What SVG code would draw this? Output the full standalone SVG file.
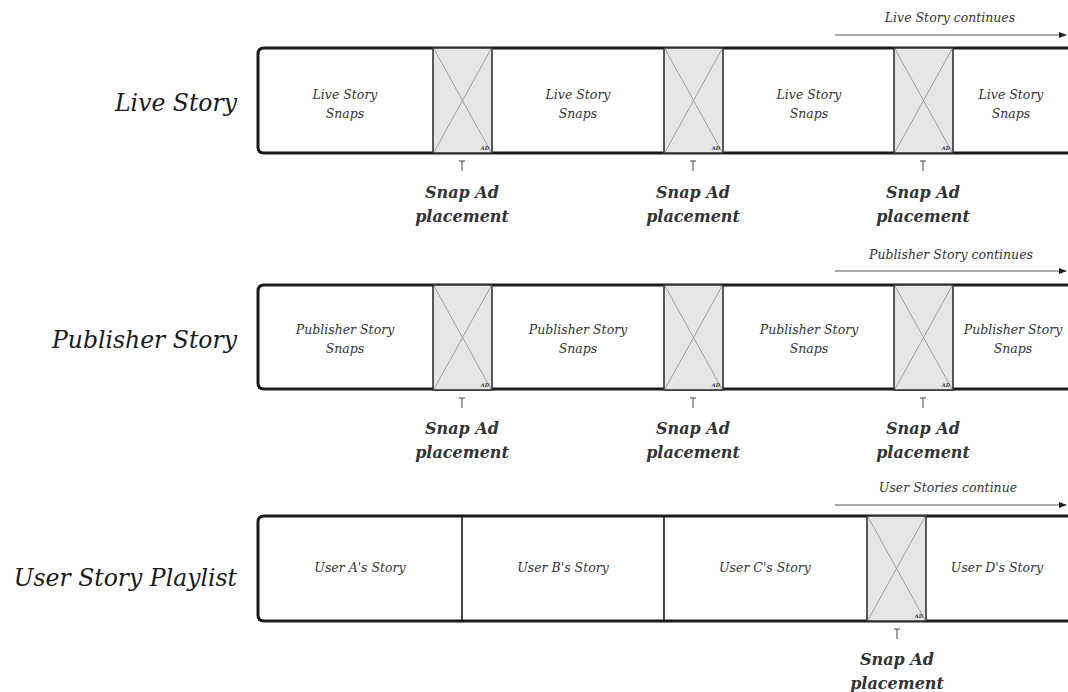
<svg xmlns="http://www.w3.org/2000/svg" width="1068" height="692" viewBox="0 0 1068 692">
<defs>
<style>
.bg{fill:#fff}
.frame{fill:#fff;stroke:#1a1a1a;stroke-width:3}
.div{stroke:#1a1a1a;stroke-width:1.6;fill:none}
.ad{fill:#e6e6e6;stroke:#333;stroke-width:1.6}
.x{stroke:#8a8a8a;stroke-width:0.8;fill:none}
.adt{font-family:"DejaVu Serif",serif;font-style:italic;font-weight:bold;font-size:5px;fill:#333;text-anchor:end}
.row{font-family:"DejaVu Serif",serif;font-style:italic;font-size:23.5px;fill:#1a1a1a;text-anchor:end}
.cell{font-family:"DejaVu Serif",serif;font-style:italic;font-size:12.5px;fill:#333;text-anchor:middle}
.snap{font-family:"DejaVu Serif",serif;font-style:italic;font-weight:bold;font-size:16px;fill:#333;text-anchor:middle}
.cont{font-family:"DejaVu Serif",serif;font-style:italic;font-size:12.5px;fill:#333;text-anchor:middle}
.arr{stroke:#555;stroke-width:1.2;fill:none;marker-end:url(#ah)}
.tick{stroke:#444;stroke-width:1;fill:none}
</style>
<marker id="ah" viewBox="0 0 10 10" refX="9" refY="5" markerWidth="8" markerHeight="8" markerUnits="userSpaceOnUse" orient="auto">
<path d="M0,1 L10,5 L0,9 z" fill="#222"/>
</marker>
<g id="adbox">
<rect class="ad" x="0" y="0" width="59" height="105"/>
<line class="x" x1="1" y1="1" x2="58" y2="104"/>
<line class="x" x1="58" y1="1" x2="1" y2="104"/>
<text class="adt" x="56" y="102">AD</text>
</g>
<path id="tk" class="tick" d="M0,0 V10 M-3,0 H3"/>
</defs>
<rect class="bg" width="1068" height="692"/>

<g id="row-live">
<text class="row" x="237" y="111">Live Story</text>
<path class="frame" d="M1075,48 H264 Q258,48 258,54 V147 Q258,153 264,153 H1075"/>
<use href="#adbox" x="433" y="48"/>
<use href="#adbox" x="664" y="48"/>
<use href="#adbox" x="894" y="48"/>
<text class="cell" x="345" y="99">Live Story</text><text class="cell" x="345" y="118">Snaps</text>
<text class="cell" x="578" y="99">Live Story</text><text class="cell" x="578" y="118">Snaps</text>
<text class="cell" x="809" y="99">Live Story</text><text class="cell" x="809" y="118">Snaps</text>
<text class="cell" x="1011" y="99">Live Story</text><text class="cell" x="1011" y="118">Snaps</text>
<text class="cont" x="950" y="22">Live Story continues</text>
</g>

<g id="row-publisher">
<text class="row" x="237" y="348">Publisher Story</text>
<path class="frame" d="M1075,285 H264 Q258,285 258,291 V383 Q258,389 264,389 H1075"/>
<use href="#adbox" x="433" y="285"/>
<use href="#adbox" x="664" y="285"/>
<use href="#adbox" x="894" y="285"/>
<text class="cell" x="345" y="334">Publisher Story</text><text class="cell" x="345" y="353">Snaps</text>
<text class="cell" x="578" y="334">Publisher Story</text><text class="cell" x="578" y="353">Snaps</text>
<text class="cell" x="809" y="334">Publisher Story</text><text class="cell" x="809" y="353">Snaps</text>
<text class="cell" x="1013" y="334">Publisher Story</text><text class="cell" x="1013" y="353">Snaps</text>
<text class="cont" x="951" y="259">Publisher Story continues</text>
</g>

<g id="row-user">
<text class="row" x="237" y="586">User Story Playlist</text>
<path class="frame" d="M1075,516 H264 Q258,516 258,522 V615 Q258,621 264,621 H1075"/>
<line class="div" x1="462" y1="517" x2="462" y2="620"/>
<line class="div" x1="664" y1="517" x2="664" y2="620"/>
<use href="#adbox" x="867" y="516"/>
<text class="cell" x="360" y="572">User A's Story</text>
<text class="cell" x="563" y="572">User B's Story</text>
<text class="cell" x="765" y="572">User C's Story</text>
<text class="cell" x="997" y="572">User D's Story</text>
<text class="cont" x="948" y="492">User Stories continue</text>
</g>

<g id="placements">
<use href="#tk" x="462" y="161"/><text class="snap" x="462" y="198">Snap Ad</text><text class="snap" x="462" y="222">placement</text>
<use href="#tk" x="693" y="161"/><text class="snap" x="693" y="198">Snap Ad</text><text class="snap" x="693" y="222">placement</text>
<use href="#tk" x="923" y="161"/><text class="snap" x="923" y="198">Snap Ad</text><text class="snap" x="923" y="222">placement</text>
<use href="#tk" x="462" y="398"/><text class="snap" x="462" y="434">Snap Ad</text><text class="snap" x="462" y="458">placement</text>
<use href="#tk" x="693" y="398"/><text class="snap" x="693" y="434">Snap Ad</text><text class="snap" x="693" y="458">placement</text>
<use href="#tk" x="923" y="398"/><text class="snap" x="923" y="434">Snap Ad</text><text class="snap" x="923" y="458">placement</text>
<use href="#tk" x="897" y="629"/><text class="snap" x="897" y="665">Snap Ad</text><text class="snap" x="897" y="689">placement</text>
</g>

<g id="connectors">
<line class="arr" x1="835" y1="35" x2="1066" y2="35"/>
<line class="arr" x1="835" y1="271" x2="1066" y2="271"/>
<line class="arr" x1="835" y1="505" x2="1066" y2="505"/>
</g>
</svg>
